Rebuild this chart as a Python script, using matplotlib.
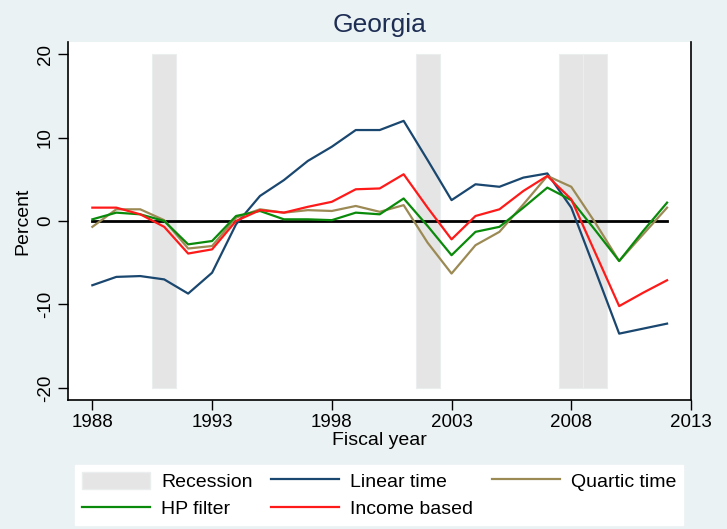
import numpy as np
import matplotlib
matplotlib.use('Agg')
from matplotlib import pyplot as plt
from matplotlib.patches import Patch
from matplotlib.lines import Line2D

plt.rcParams['font.family'] = ['Liberation Sans', 'DejaVu Sans']
plt.rcParams['axes.unicode_minus'] = False

# data
years = list(range(1988, 2013))
linear_time = [-7.7, -6.7, -6.6, -7.0, -8.7, -6.2, -0.4, 3.0, 4.9, 7.2, 8.9, 10.9,
               10.9, 12.0, 7.3, 2.5, 4.4, 4.1, 5.2, 5.7, 1.6, -5.9, -13.5, -12.9, -12.3]
quartic_time = [-0.7, 1.4, 1.4, 0.1, -3.3, -3.0, 0.4, 1.4, 1.0, 1.3, 1.2, 1.8,
                1.1, 1.9, -2.6, -6.3, -2.9, -1.3, 2.0, 5.4, 4.1, -0.2, -4.8, -1.6, 1.6]
hp_filter = [0.2, 1.0, 0.8, 0.0, -2.8, -2.4, 0.6, 1.2, 0.2, 0.2, 0.1, 1.0,
             0.8, 2.7, -0.6, -4.1, -1.3, -0.7, 1.6, 4.0, 2.5, -1.1, -4.8, -1.2, 2.2]
income_based = [1.6, 1.6, 0.8, -0.7, -3.9, -3.4, 0.0, 1.3, 1.0, 1.7, 2.3, 3.8,
                3.9, 5.6, 1.6, -2.2, 0.6, 1.4, 3.6, 5.4, 2.6, -3.8, -10.2, -8.6, -7.1]
recession_years = [1991, 2002, 2008, 2009]
recession_low = -20
recession_high = 20

bg = '#eaf2f3'
navy = '#1a476f'
khaki = '#9c8a55'
green = '#0a8a0a'
red = '#ff1a1a'
shade = '#e5e5e5'

fig = plt.figure(figsize=(7.27, 5.29), dpi=100, facecolor=bg)
ax = fig.add_axes([0.0931, 0.2439, 0.8574, 0.6767])
ax.set_facecolor('white')

ax.bar(recession_years, recession_high - recession_low, bottom=recession_low, width=1.0,
       color=shade, edgecolor='#ebeeee', linewidth=0.8, zorder=1)
ax.plot([years[0], years[-1]], [0, 0], color='black', lw=2.0, zorder=2)
ax.plot(years, linear_time, color=navy, lw=1.6, zorder=3)
ax.plot(years, quartic_time, color=khaki, lw=1.6, zorder=3)
ax.plot(years, hp_filter, color=green, lw=1.6, zorder=4)
ax.plot(years, income_based, color=red, lw=1.6, zorder=5)

ax.set_xlim(1986.97, 2013)
ax.set_ylim(-21.45, 21.45)
ax.set_xticks(np.arange(1988, 2014, 5))
ax.set_yticks([-20, -10, 0, 10, 20])
ax.tick_params(axis='both', direction='out', length=7, width=1, labelsize=13.5, pad=3)
plt.setp(ax.get_yticklabels(), rotation=90, va='center')
ax.spines['top'].set_visible(False)
for s in ['left', 'bottom', 'right']:
    ax.spines[s].set_color('black')
    ax.spines[s].set_linewidth(1.2)

ax.set_xlabel('Fiscal year', fontsize=14, labelpad=1)
ax.set_ylabel('Percent', fontsize=14, labelpad=4)
ax.set_title('Georgia', fontsize=19, color='#1e2d53', pad=7)

handles = [Patch(facecolor=shade, edgecolor='#ebeeee'),
           Line2D([], [], color=green, lw=1.6),
           Line2D([], [], color=navy, lw=1.6),
           Line2D([], [], color=red, lw=1.6),
           Line2D([], [], color=khaki, lw=1.6)]
labels = ['Recession', 'HP filter', 'Linear time', 'Income based', 'Quartic time']
leg = fig.legend(handles, labels, ncol=3, loc='upper center', bbox_to_anchor=(0.5213, 0.121),
                 fontsize=14, frameon=True, fancybox=False, handlelength=3.5,
                 handleheight=1.0, handletextpad=0.57, columnspacing=0.95,
                 labelspacing=0.4, borderpad=0.35, borderaxespad=0)
leg.get_frame().set_facecolor('white')
leg.get_frame().set_edgecolor('white')
leg.get_frame().set_alpha(1)

plt.savefig('out.png', dpi=100, facecolor=bg)
